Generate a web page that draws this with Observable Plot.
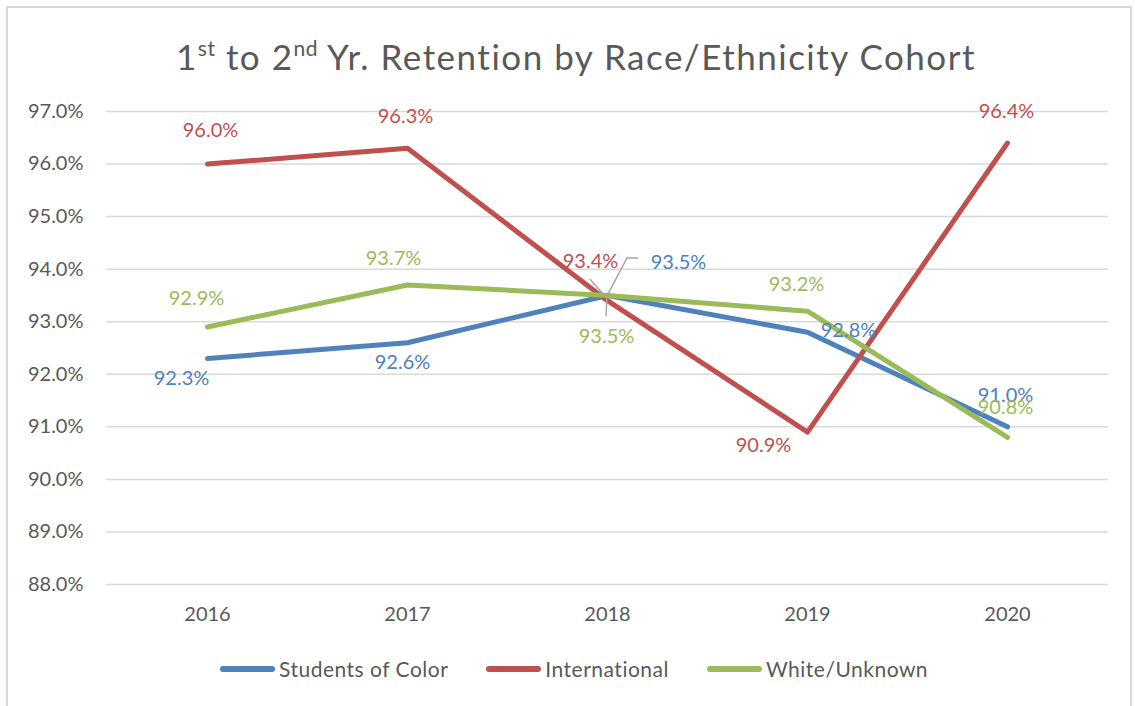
<!DOCTYPE html>
<html>
<head>
<meta charset="utf-8">
<script src="https://cdn.jsdelivr.net/npm/d3@7"></script>
<script src="https://cdn.jsdelivr.net/npm/@observablehq/plot@0.6"></script>
<style>
  html, body { margin: 0; padding: 0; background: #fff; }
  #frame { position: relative; width: 1135px; height: 706px; overflow: hidden; font-family: Lato, "Open Sans", sans-serif; }
  #border { position: absolute; left: 6px; top: 6px; width: 1126px; height: 710px; border: 2px solid #d9d9d9; box-sizing: border-box; }
  #title { position: absolute; left: 18px; top: 35px; width: 1116px; text-align: center; font-size: 35px; letter-spacing: 1.5px; color: #595959; line-height: 42px; }
  #title sup { font-size: 21px; line-height: 0; vertical-align: 14px; letter-spacing: 0.5px; }
  #chart { position: absolute; left: 0; top: 0; }
  #legend { position: absolute; left: 220px; top: 656px; display: flex; align-items: center; font-size: 21px; letter-spacing: 0.5px; color: #595959; }
  .item { display: flex; align-items: center; margin-right: 38px; }
  .sw { width: 55px; height: 6px; border-radius: 3px; margin-right: 4px; }
</style>
</head>
<body>
<div id="frame">
  <div id="border"></div>
  <div id="title">1<sup>st</sup> to 2<sup>nd</sup> Yr. Retention by Race/Ethnicity Cohort</div>
  <div id="chart"></div>
  <div id="legend"></div>
</div>
<script>
const years = ["2016", "2017", "2018", "2019", "2020"];
const seriesNames = ["Students of Color", "International", "White/Unknown"];
const studentsOfColor = [92.3, 92.6, 93.5, 92.8, 91.0];
const international = [96.0, 96.3, 93.4, 90.9, 96.4];
const whiteUnknown = [92.9, 93.7, 93.5, 93.2, 90.8];
const colors = ["#4f81bd", "#c0504d", "#9bbb59"];
const yTicks = [88, 89, 90, 91, 92, 93, 94, 95, 96, 97];

// label offsets (px) per series, per year
const labelOffsets = {
  "Students of Color": [[-26, 20], [-5, 20], [71, -33], [41, -2], [-2, -31]],
  "International": [[3, -33], [-2, -32], [-17, -39], [-44, 14], [-1, -31]],
  "White/Unknown": [[-11, -28], [-14, -26], [-1, 41], [-11, -27], [-2, -30]]
};

const seriesValues = [studentsOfColor, international, whiteUnknown];
const data = [];
seriesNames.forEach((s, si) => {
  years.forEach((y, yi) => {
    data.push({series: s, year: y, value: seriesValues[si][yi], dx: labelOffsets[s][yi][0], dy: labelOffsets[s][yi][1]});
  });
});

// leader lines for 2018 labels (pixel offsets relative to the data point)
const leaders = [
  {series: "Students of Color", pts: [[31, -37], [20, -37], [0, 1]]},
  {series: "International", pts: [[-17, -21], [0, -2]]},
  {series: "White/Unknown", pts: [[-1, 21], [0, 0]]}
];

const font = "Lato, 'Open Sans', sans-serif";

const leaderMark = (index, scales) => {
  const g = d3.create("svg:g").attr("fill", "none").attr("stroke", "#a6a6a6").attr("stroke-width", 1.5);
  leaders.forEach(l => {
    const d = data.find(r => r.series === l.series && r.year === "2018");
    const px = scales.x(d.year), py = scales.y(d.value);
    g.append("path").attr("d", "M" + l.pts.map(p => (px + p[0]) + "," + (py + p[1])).join("L"));
  });
  return g.node();
};

const chart = Plot.plot({
  width: 1135,
  height: 706,
  marginLeft: 106,
  marginRight: 27,
  marginTop: 111,
  marginBottom: 122,
  style: {fontFamily: font, background: "transparent"},
  x: {type: "point", domain: years, padding: 0.5, label: null},
  y: {domain: [88, 97], label: null},
  color: {domain: seriesNames, range: colors},
  marks: [
    Plot.ruleY(yTicks, {stroke: "#d9d9d9", strokeWidth: 1.5}),
    Plot.axisY({ticks: yTicks, tickSize: 0, tickPadding: 23, tickFormat: d => d.toFixed(1) + "%", fontSize: 20, fill: "#595959", label: null}),
    Plot.axisX({tickSize: 0, tickPadding: 22, fontSize: 20, fill: "#595959", label: null}),
    Plot.line(data, {x: "year", y: "value", z: "series", stroke: "series", strokeWidth: 5, strokeLinecap: "round", strokeLinejoin: "round"}),
    leaderMark,
    Plot.text(data, {x: "year", y: "value", text: d => d.value.toFixed(1) + "%", fill: "series", fontSize: 20, dx: 0, dy: 0,
      render: (index, scales, values, dimensions, context, next) => {
        const el = next(index, scales, values, dimensions, context);
        d3.select(el).selectAll("text").each(function(_, i) {
          const d = data[index[i]];
          const t = d3.select(this);
          const tr = t.attr("transform") || "";
          t.attr("transform", tr + " translate(" + d.dx + "," + d.dy + ")");
        });
        return el;
      }})
  ]
});
document.getElementById("chart").appendChild(chart);

const legend = d3.select("#legend");
seriesNames.forEach((s, i) => {
  const it = legend.append("div").attr("class", "item");
  it.append("div").attr("class", "sw").style("background", colors[i]);
  it.append("span").text(s);
});
</script>
</body>
</html>
